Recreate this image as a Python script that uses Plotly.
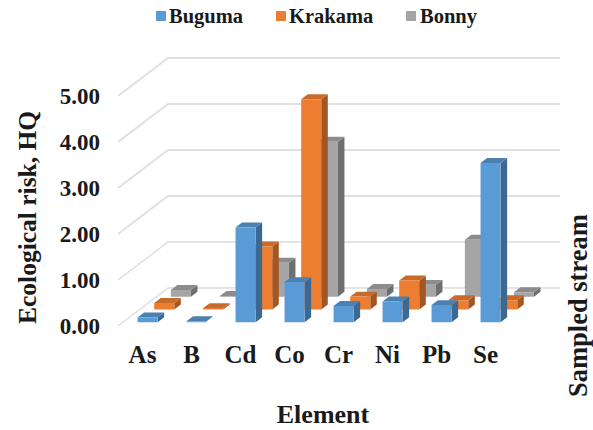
import plotly.graph_objects as go

# Hazard quotients per element and sampled stream
elements = ["As", "B", "Cd", "Co", "Cr", "Ni", "Pb", "Se"]
buguma = [0.10, 0.02, 2.06, 0.87, 0.35, 0.45, 0.37, 3.46]
krakama = [0.14, 0.03, 1.37, 4.57, 0.28, 0.63, 0.20, 0.20]
bonny = [0.15, 0.02, 0.74, 3.37, 0.17, 0.26, 1.24, 0.10]
value_ticks = [0, 1, 2, 3, 4, 5]

FONT = "Liberation Serif"
INK = "#1a1a1a"
W, H = 593, 430

# Oblique projection: each depth row moves a bar right and up on the page
DEPTH_X = 0.34
DEPTH_Y = 0.2754
BAR_W = 0.41
BAR_D = 0.39
ROW_GAP = (1 - BAR_D) / 2
ROWS = 3


def project(cat, depth, value):
    return cat + depth * DEPTH_X, value + depth * DEPTH_Y


def polygons(faces):
    xs, ys = [], []
    for face in faces:
        for corner in face + face[:1]:
            px, py = project(*corner)
            xs.append(px)
            ys.append(py)
        xs.append(None)
        ys.append(None)
    return xs, ys


series = [
    ("Bonny", bonny, 2, "#a5a5a5", "#8c8c8c", "#6f6f6f"),
    ("Krakama", krakama, 1, "#ed7d31", "#c96a2a", "#a45622"),
    ("Buguma", buguma, 0, "#5b9bd5", "#4a80b2", "#3d6892"),
]

fig = go.Figure()

# Side wall and back wall gridlines
cat_lo, cat_hi = -0.5, len(elements) - 0.5
for tick in value_ticks:
    gx, gy = zip(
        project(cat_lo, 0, tick),
        project(cat_lo, ROWS, tick),
        project(cat_hi, ROWS, tick),
    )
    fig.add_trace(go.Scatter(
        x=gx, y=gy, mode="lines", cliponaxis=False, showlegend=False, hoverinfo="skip",
        line=dict(color="#e0e0e0" if tick > 1 else "#dcdcdc", width=2 if tick > 1 else 1.3),
    ))

# Bars are painted back row first so nearer rows cover farther ones
for name, values, row, front_c, top_c, side_c in series:
    z0 = row + ROW_GAP
    z1 = z0 + BAR_D
    fronts, tops, sides = [], [], []
    for i, v in enumerate(values):
        a, b = i - BAR_W / 2, i + BAR_W / 2
        fronts.append([(a, z0, 0), (b, z0, 0), (b, z0, v), (a, z0, v)])
        tops.append([(a, z0, v), (b, z0, v), (b, z1, v), (a, z1, v)])
        sides.append([(b, z0, 0), (b, z1, 0), (b, z1, v), (b, z0, v)])
    for faces, colour in ((sides, side_c), (tops, top_c), (fronts, front_c)):
        fx, fy = polygons(faces)
        fig.add_trace(go.Scatter(
            x=fx, y=fy, mode="lines", fill="toself", fillcolor=colour, name=name,
            line=dict(width=0, color=colour), cliponaxis=False,
            showlegend=False, hoverinfo="skip",
        ))

title_font = dict(family=FONT, size=26, weight="bold", color=INK)
annotations = [
    dict(text="Ecological risk, HQ", xref="paper", yref="paper", textangle=-90,
         x=27 / W, y=1 - 218 / H, xanchor="center", yanchor="middle", showarrow=False,
         font=dict(family=FONT, size=25.5, weight="bold", color=INK)),
    dict(text="Sampled stream", xref="paper", yref="paper", textangle=-90,
         x=578 / W, y=1 - 306 / H, xanchor="center", yanchor="middle", showarrow=False,
         font=dict(family=FONT, size=26.5, weight="bold", color=INK)),
]

# Legend row along the top edge: a colour key followed by the stream name
shapes = []
for label, colour, key_left, text_left in (
    ("Buguma", "#5b9bd5", 156, 170),
    ("Krakama", "#ed7d31", 276, 290),
    ("Bonny", "#a5a5a5", 406, 421),
):
    shapes.append(dict(
        type="rect", xref="paper", yref="paper", line_width=0, fillcolor=colour,
        x0=key_left / W, x1=(key_left + 10) / W, y0=1 - 21 / H, y1=1 - 11 / H,
    ))
    annotations.append(dict(
        text=label, xref="paper", yref="paper", showarrow=False,
        x=text_left / W, y=1 - 16 / H, xanchor="left", yanchor="middle", borderpad=0, borderwidth=0,
        xshift=-1, font=dict(family=FONT, size=20.5, weight="bold", color=INK),
    ))

fig.update_layout(
    width=W, height=H,
    margin=dict(l=0, r=0, t=0, b=0),
    paper_bgcolor="white", plot_bgcolor="white",
    font=dict(family=FONT, color=INK),
    showlegend=False,
    xaxis=dict(
        domain=[86 / W, 560 / W], automargin=False,
        range=[-1.153, 8.52], tickmode="array",
        tickvals=list(range(len(elements))), ticktext=elements,
        showgrid=False, zeroline=False, showline=False, ticks="",
        ticklabelstandoff=11,
        tickfont=dict(family=FONT, size=25, weight="bold", color=INK),
        title=dict(text="Element", standoff=37, font=title_font),
    ),
    yaxis=dict(
        domain=[104 / H, 380 / H], automargin=False,
        anchor="free", position=118 / W,
        range=[0, 6], tickmode="array", tickvals=value_ticks,
        ticktext=[f"{t:.2f}" for t in value_ticks],
        showgrid=False, zeroline=False, showline=False, ticks="",
        ticklabelstandoff=18,
        tickfont=dict(family=FONT, size=23, weight="bold", color=INK),
    ),
    annotations=annotations,
    shapes=shapes,
)

fig.write_html("out.html")
